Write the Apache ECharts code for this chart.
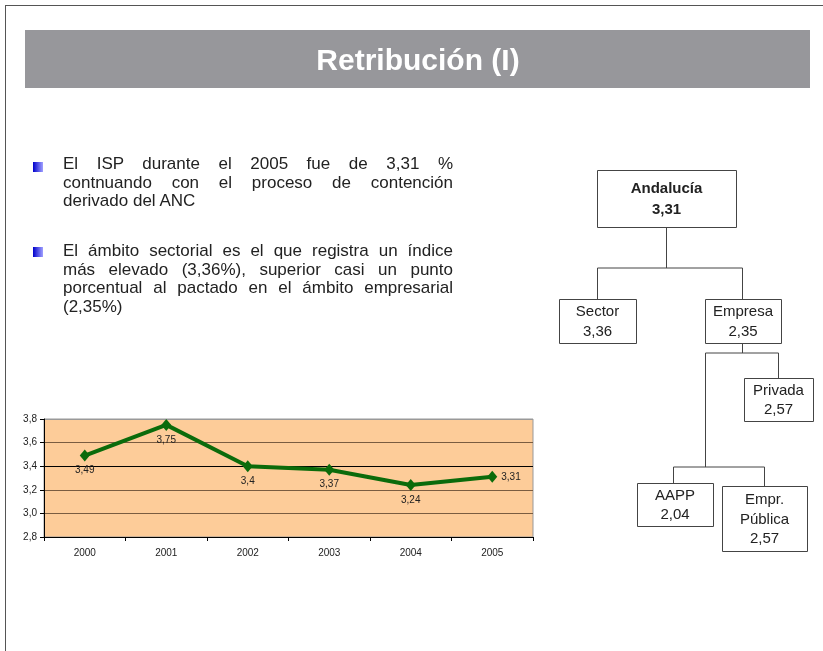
<!DOCTYPE html>
<html>
<head>
<meta charset="utf-8">
<script src="https://cdn.jsdelivr.net/npm/echarts@6/dist/echarts.min.js"></script>
<style>
  html, body { margin: 0; padding: 0; background: #fff; }
  #page { position: relative; width: 823px; height: 651px; overflow: hidden; }
  #chart { position: absolute; left: 0; top: 0; width: 823px; height: 651px; }
  .bullet {
    position: absolute; left: 63px; width: 390px;
    font-family: "Liberation Sans", Arial, sans-serif; font-size: 17px;
    line-height: 18.5px; color: #222;
  }
  .bullet div { text-align: justify; text-align-last: justify; white-space: nowrap; }
  .bullet div.last { text-align-last: left; }
</style>
</head>
<body>
<div id="page">
  <div id="chart"></div>
  <div class="bullet" style="top:155px">
    <div>El ISP durante el 2005 fue de 3,31 %</div>
    <div>contnuando con el proceso de contención</div>
    <div class="last">derivado del ANC</div>
  </div>
  <div class="bullet" style="top:242px">
    <div>El ámbito sectorial es el que registra un índice</div>
    <div>más elevado (3,36%), superior casi un punto</div>
    <div>porcentual al pactado en el ámbito empresarial</div>
    <div class="last">(2,35%)</div>
  </div>
</div>
<script>
// serie ISP 2000-2005
var years = ['2000', '2001', '2002', '2003', '2004', '2005'];
var isp = [3.49, 3.75, 3.4, 3.37, 3.24, 3.31];
var yTicks = [2.8, 3.0, 3.2, 3.4, 3.6, 3.8];

// organigrama
var nodeNames = ['Andalucía', 'Sector', 'Empresa', 'Privada', 'AAPP', 'Empr.\nPública'];
var nodeValues = ['3,31', '3,36', '2,35', '2,57', '2,04', '2,57'];

var chart = echarts.init(document.getElementById('chart'));

function fmt(v) {
    return String(v).replace('.', ',');
}

// cajas del organigrama: x, y, ancho, alto
var boxes = [
    [597, 170, 139, 57],
    [559, 299, 77, 44],
    [705, 299, 76, 44],
    [744, 378, 69, 43],
    [637, 483, 76, 43],
    [722, 486, 85, 65]
];
// conectores
var links = [
    [[666, 227], [666, 268]],
    [[597, 268], [742, 268]],
    [[597, 268], [597, 299]],
    [[742, 268], [742, 299]],
    [[742, 343], [742, 353]],
    [[705, 353], [778, 353]],
    [[778, 353], [778, 378]],
    [[705, 353], [705, 467]],
    [[673, 467], [764, 467]],
    [[673, 467], [673, 483]],
    [[764, 467], [764, 486]]
];

var graphics = [
    // marco de la pagina
    { type: 'line', shape: { x1: 5, y1: 5.5, x2: 823, y2: 5.5 }, style: { stroke: '#555', lineWidth: 1 } },
    { type: 'line', shape: { x1: 5.5, y1: 5, x2: 5.5, y2: 651 }, style: { stroke: '#555', lineWidth: 1 } },
    // banda del titulo
    { type: 'rect', shape: { x: 25, y: 30, width: 785, height: 58 }, style: { fill: '#97979b' } },
    {
        type: 'text', x: 418, y: 62,
        style: {
            text: 'Retribución (I)', fill: '#fff', align: 'center', verticalAlign: 'middle',
            font: 'bold 30px "Liberation Sans", Arial, sans-serif'
        }
    }
];

// vinetas
[162, 247].forEach(function (y) {
    graphics.push({
        type: 'rect', shape: { x: 33, y: y, width: 10, height: 10 },
        style: {
            fill: new echarts.graphic.LinearGradient(0, 0, 1, 0, [
                { offset: 0, color: '#0000cc' },
                { offset: 1, color: '#a0a0ff' }
            ])
        }
    });
});

links.forEach(function (l) {
    graphics.push({
        type: 'line',
        shape: { x1: l[0][0] + 0.5, y1: l[0][1], x2: l[1][0] + 0.5, y2: l[1][1] },
        style: { stroke: '#444', lineWidth: 1 }
    });
});

boxes.forEach(function (b, i) {
    graphics.push({
        type: 'rect',
        shape: { x: b[0] + 0.5, y: b[1] + 0.5, width: b[2], height: b[3] },
        style: { fill: '#fff', stroke: '#444', lineWidth: 1 }
    });
    graphics.push({
        type: 'text', x: b[0] + b[2] / 2, y: b[1] + b[3] / 2 + 1,
        style: {
            text: nodeNames[i] + '\n' + nodeValues[i],
            fill: '#222', align: 'center', verticalAlign: 'middle',
            lineHeight: i === 0 ? 21 : 19.5,
            font: (i === 0 ? 'bold ' : '') + '15px "Liberation Sans", Arial, sans-serif'
        }
    });
});

var option = {
    animation: false,
    graphic: graphics,
    grid: {
        left: 44, top: 419, width: 489, height: 118,
        show: true, backgroundColor: '#fdcc99', borderColor: '#999', borderWidth: 1
    },
    xAxis: {
        type: 'category',
        data: years,
        boundaryGap: true,
        axisLine: { lineStyle: { color: '#000', width: 1 } },
        axisTick: { show: true, length: 4, lineStyle: { color: '#000' } },
        axisLabel: { color: '#222', fontSize: 10, margin: 11, fontFamily: 'Liberation Sans' }
    },
    yAxis: {
        type: 'value',
        min: yTicks[0],
        max: yTicks[yTicks.length - 1],
        interval: 0.2,
        axisLine: { show: true, lineStyle: { color: '#000', width: 1 } },
        axisTick: { show: true, length: 4, lineStyle: { color: '#000' } },
        axisLabel: {
            color: '#222', fontSize: 10, margin: 7, fontFamily: 'Liberation Sans',
            formatter: function (v) { return v.toFixed(1).replace('.', ','); }
        },
        splitLine: {
            lineStyle: {
                color: ['#999', '#7a5c40', '#7a5c40', '#000', '#7a5c40', '#999'],
                width: 1
            }
        }
    },
    series: [{
        type: 'line',
        data: isp.map(function (v, i) {
            return {
                value: v,
                label: { position: i === isp.length - 1 ? 'right' : 'bottom' }
            };
        }),
        lineStyle: { color: '#0b6b0b', width: 4 },
        itemStyle: { color: '#0b6b0b' },
        symbol: 'diamond',
        symbolSize: [10, 12],
        label: {
            show: true,
            color: '#222',
            fontSize: 10,
            fontFamily: 'Liberation Sans',
            distance: 4,
            formatter: function (p) { return fmt(p.value); }
        }
    }]
};

chart.setOption(option);
</script>
</body>
</html>
